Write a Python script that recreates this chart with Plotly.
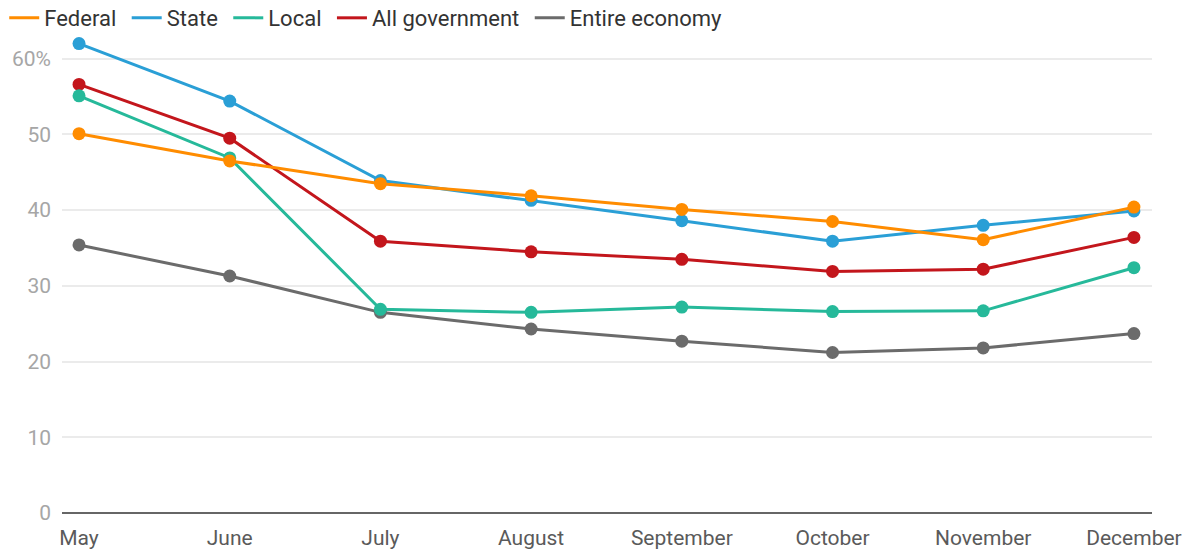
import plotly.graph_objects as go

months = ["May", "June", "July", "August", "September", "October", "November", "December"]

federal = [50.1, 46.5, 43.5, 41.9, 40.1, 38.5, 36.1, 40.4]
state = [62.0, 54.4, 43.9, 41.3, 38.6, 35.9, 38.0, 39.9]
local = [55.1, 46.9, 26.9, 26.5, 27.2, 26.6, 26.7, 32.4]
all_government = [56.6, 49.5, 35.9, 34.5, 33.5, 31.9, 32.2, 36.4]
entire_economy = [35.4, 31.3, 26.5, 24.3, 22.7, 21.2, 21.8, 23.7]

y_ticks = [0, 10, 20, 30, 40, 50, 60]
y_tick_labels = ["0", "10", "20", "30", "40", "50", "60%"]

series = [
    ("Federal", federal, "#FF8C00"),
    ("State", state, "#2A9FD6"),
    ("Local", local, "#26B99A"),
    ("All government", all_government, "#C3161C"),
    ("Entire economy", entire_economy, "#6B6B6B"),
]

fig = go.Figure()

# data lines with point markers (legend drawn separately as plain line swatches)
for name, values, color in reversed(series):
    fig.add_trace(go.Scatter(
        x=months, y=values, name=name, mode="lines+markers",
        line=dict(color=color, width=3),
        marker=dict(color=color, size=13),
        showlegend=False,
    ))

# legend entries: line swatch only, a little extra room after each label
for name, values, color in series:
    fig.add_trace(go.Scatter(
        x=[None], y=[None], name=name + "\u00a0", mode="lines",
        line=dict(color=color, width=3),
        showlegend=True,
    ))

fig.update_layout(
    width=1189, height=549,
    margin=dict(l=62, r=37, t=36, b=36, autoexpand=False),
    paper_bgcolor="white", plot_bgcolor="white",
    font=dict(family="Roboto", size=21, color="#333333"),
    legend=dict(
        orientation="h", x=-0.053, y=1.0377, xanchor="left", yanchor="middle",
        xref="paper", yref="paper",
        font=dict(size=22, color="#333333"),
        itemwidth=30, tracegroupgap=0,
        bgcolor="rgba(0,0,0,0)",
    ),
    xaxis=dict(
        range=[-0.113, 7.12],
        showgrid=False, zeroline=False, showline=False,
        ticks="", tickfont=dict(size=21, color="#5A5A5A"),
        ticklabelstandoff=10,
        fixedrange=True,
    ),
    yaxis=dict(
        range=[0, 63],
        tickvals=y_ticks, ticktext=y_tick_labels,
        showgrid=True, gridcolor="#EBEBEB", gridwidth=2,
        zeroline=True, zerolinecolor="#666666", zerolinewidth=2,
        showline=False, ticks="",
        tickfont=dict(size=21, color="#A6A6A6"),
        ticklabelstandoff=10,
        fixedrange=True,
    ),
)

fig.write_html("out.html")
